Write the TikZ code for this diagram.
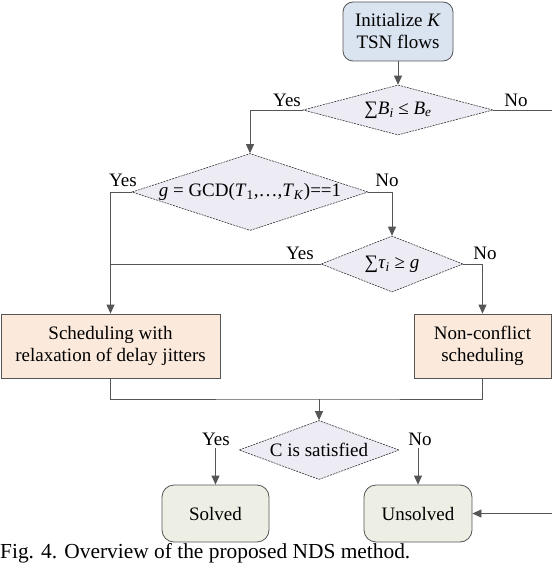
\documentclass[tikz,border=0pt]{standalone}
\usepackage{fontspec}
\setmainfont{Liberation Serif}
\usetikzlibrary{shapes.geometric,arrows.meta}
\definecolor{initblue}{HTML}{DAE3F0}
\definecolor{decfill}{HTML}{EDEBF4}
\definecolor{procfill}{HTML}{FBE9DB}
\definecolor{endfill}{HTML}{EDEFE4}
\definecolor{linegray}{HTML}{555555}
\newcommand{\vi}[1]{\textit{#1}}
\tikzset{
  line/.style={draw=linegray, line width=.8pt},
  arr/.style={line, -{Triangle[length=9pt,width=8pt]}},
  startbox/.style={draw=linegray, line width=.8pt, fill=initblue, rounded corners=10pt, align=center, minimum width=110pt, minimum height=59pt},
  decide/.style={diamond, draw=black!80, line width=.6pt, dash pattern=on 2pt off 1pt, fill=decfill, inner sep=0pt},
  procbox/.style={draw=linegray, line width=.8pt, fill=procfill, align=center, minimum height=64pt},
  endbox/.style={draw=linegray, line width=.8pt, fill=endfill, rounded corners=12pt, minimum height=57pt},
  lbl/.style={inner sep=0pt}
}
\begin{document}
\begin{tikzpicture}[x=1pt, y=-1pt, font=\rmfamily\fontsize{19}{22}\selectfont]
\useasboundingbox (0,0) rectangle (552,564);
% boxes and decisions
\node[startbox] (init) at (398,31.5) {Initialize \vi{K}\\TSN flows};
\node[decide, aspect=3.8, minimum width=190pt, minimum height=50pt] (sumB) at (398,110) {∑\vi{B}\textsubscript{\vi{i}} ≤ \vi{B}\textsubscript{\vi{e}}};
\node[decide, aspect=3.06, minimum width=236pt, minimum height=77pt] (gcd) at (250,192) {\vi{g} = GCD(\vi{T}\textsubscript{1},\ldots,\vi{T}\textsubscript{\vi{K}})==1};
\node[decide, aspect=2.5, minimum width=142pt, minimum height=56pt] (sumtau) at (392,264) {∑\vi{τ}\textsubscript{\vi{i}} ≥ \vi{g}};
\node[procbox, minimum width=219pt] (relax) at (110.5,346) {Scheduling with\\relaxation of delay jitters};
\node[procbox, minimum width=137pt] (noconf) at (482.5,346) {Non-conflict\\scheduling};
\node[decide, aspect=2.7, minimum width=160pt, minimum height=59pt] (check) at (319,450) {C is satisfied};
\node[endbox, minimum width=107pt] (solved) at (215.5,513.5) {Solved};
\node[endbox, minimum width=108pt] (unsolved) at (418,513.5) {Unsolved};
% labels
\node[lbl] (y1) at (287,100) {Yes};
\node[lbl] (n1) at (516,100) {No};
\node[lbl] (y2) at (123,180) {Yes};
\node[lbl] (n2) at (387,180) {No};
\node[lbl] (y3) at (300,253) {Yes};
\node[lbl] (n3) at (485,253) {No};
\node[lbl] (y4) at (216,439) {Yes};
\node[lbl] (n4) at (420,439) {No};
\coordinate (outR) at (552,110);
\coordinate (backR) at (552,510);
\coordinate (merge) at (319,399);
\coordinate (ytail) at (215.5,448);
\coordinate (ntail) at (418,448);
% connectors
\draw[arr] (init) -- (sumB);
\draw[arr] (sumB.west) -| (gcd.north);
\draw[line] (sumB.east) -- (outR);
\draw[arr] (gcd.west) -| (relax.north);
\draw[arr] (gcd.east) -| (sumtau.north);
\draw[line] (sumtau.west) -- (sumtau.west -| relax.north);
\draw[arr] (sumtau.east) -| (noconf.north);
\draw[line] (relax.south) |- (merge) -| (noconf.south);
\draw[arr] (merge) -- (check.north);
\draw[arr] (ytail) -- (solved.north);
\draw[arr] (ntail) -- (unsolved.north);
\draw[arr] (backR |- unsolved.east) -- (unsolved.east);
\node[anchor=base west, inner sep=0pt, font=\rmfamily\fontsize{21.4}{24}\selectfont] (cap) at (0,558) {Fig. 4. Overview of the proposed NDS method.};
\end{tikzpicture}
\end{document}
